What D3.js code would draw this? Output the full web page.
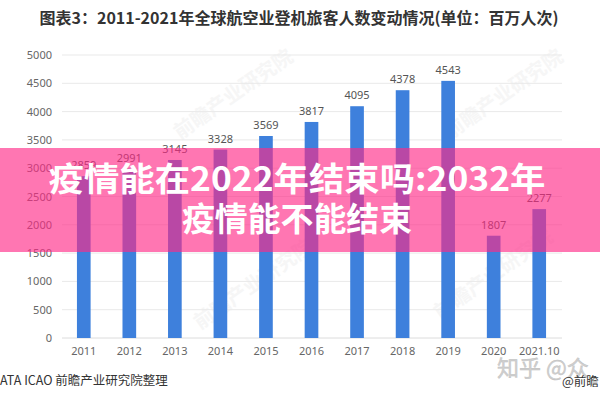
<!DOCTYPE html>
<html>
<head>
<meta charset="utf-8">
<script src="https://cdn.jsdelivr.net/npm/d3@7"></script>
<style>
  body { margin: 0; background: #fff; }
  svg { display: block; font-family: "Noto Sans CJK SC", "Noto Sans", sans-serif; }
</style>
</head>
<body>
<svg id="chart"></svg>
<script>
// data
const years = ["2011", "2012", "2013", "2014", "2015", "2016", "2017", "2018", "2019", "2020", "2021.10"];
const passengers = [2859, 2991, 3145, 3328, 3569, 3817, 4095, 4378, 4543, 1807, 2277];
const yTicks = [0, 500, 1000, 1500, 2000, 2500, 3000, 3500, 4000, 4500, 5000];
const titleText = "图表3：2011-2021年全球航空业登机旅客人数变动情况(单位：百万人次)";
const bannerLines = ["疫情能在2022年结束吗:2032年", "疫情能不能结束"];
const sourceText = "ATA  ICAO 前瞻产业研究院整理";
const watermarks = [
  { text: "前瞻产业研究院", x: 180, y: 140 },
  { text: "前瞻产业研究院", x: 450, y: 140 },
  { text: "前瞻产业研究院", x: 200, y: 330 },
  { text: "前瞻产业研究院", x: 440, y: 320 }
];

const width = 600;
const height = 400;

const svg = d3.select("#chart")
  .attr("width", width)
  .attr("height", height);

svg.append("rect")
  .attr("width", width)
  .attr("height", height)
  .attr("fill", "#fff");

// faint watermarks behind everything
svg.append("g")
  .selectAll("text")
  .data(watermarks)
  .enter()
  .append("text")
  .attr("transform", d => `translate(${d.x},${d.y}) rotate(-35)`)
  .attr("font-size", 20)
  .attr("font-weight", "bold")
  .attr("fill", "#f6f6f6")
  .text(d => d.text);

// scales
const xScale = d3.scaleBand()
  .domain(years)
  .range([61, 562])
  .paddingInner(0.7)
  .paddingOuter(0.35);

const yScale = d3.scaleLinear()
  .domain([0, 5000])
  .range([338, 55]);

// gridlines
svg.append("g")
  .selectAll("line")
  .data(yTicks)
  .enter()
  .append("line")
  .attr("x1", 62)
  .attr("x2", 562)
  .attr("y1", d => yScale(d))
  .attr("y2", d => yScale(d))
  .attr("stroke", d => d === 0 ? "#dcdcdc" : "#e9e9e9")
  .attr("stroke-width", 1);

// y axis labels
const yAxis = d3.axisLeft(yScale)
  .tickValues(yTicks)
  .tickFormat(d3.format("d"))
  .tickSize(0)
  .tickPadding(0);

const yAxisG = svg.append("g")
  .attr("transform", "translate(52,0)")
  .call(yAxis);
yAxisG.select(".domain").remove();
yAxisG.selectAll("text")
  .attr("font-size", 11)
  .attr("fill", "#666")
  .attr("font-family", "'Noto Sans', sans-serif");

// x axis labels
const xAxis = d3.axisBottom(xScale)
  .tickSize(0)
  .tickPadding(9);

const xAxisG = svg.append("g")
  .attr("transform", "translate(0,338)")
  .call(xAxis);
xAxisG.select(".domain").remove();
xAxisG.selectAll("text")
  .attr("font-size", 11)
  .attr("fill", "#666")
  .attr("font-family", "'Noto Sans', sans-serif");

// bars
svg.append("g")
  .selectAll("rect")
  .data(passengers)
  .enter()
  .append("rect")
  .attr("x", (d, i) => xScale(years[i]))
  .attr("y", d => yScale(d))
  .attr("width", xScale.bandwidth())
  .attr("height", d => yScale(0) - yScale(d))
  .attr("fill", "#3e80dc");

// value labels
svg.append("g")
  .selectAll("text")
  .data(passengers)
  .enter()
  .append("text")
  .attr("x", (d, i) => xScale(years[i]) + xScale.bandwidth() / 2)
  .attr("y", d => yScale(d) - 7)
  .attr("text-anchor", "middle")
  .attr("font-size", 11)
  .attr("fill", "#555")
  .attr("font-family", "'Noto Sans', sans-serif")
  .text(d => d);

// title
const title = svg.append("text")
  .attr("x", 299)
  .attr("y", 24)
  .attr("text-anchor", "middle")
  .attr("font-size", 16)
  .attr("font-weight", "bold")
  .attr("fill", "#333")
  .text(titleText);
const tw = title.node().getComputedTextLength();
if (tw > 528) title.attr("textLength", 528).attr("lengthAdjust", "spacingAndGlyphs");

// source line and watermark
svg.append("text")
  .attr("x", 0)
  .attr("y", 385)
  .attr("font-size", 12.5)
  .attr("fill", "#333")
  .text(sourceText);

svg.append("text")
  .attr("x", 497)
  .attr("y", 376)
  .attr("font-size", 22)
  .attr("fill", "#d0d0d0")
  .attr("stroke", "#bdbdbd")
  .attr("stroke-width", 0.4)
  .text("知乎 @众");

svg.append("text")
  .attr("x", 562)
  .attr("y", 386)
  .attr("font-size", 12.5)
  .attr("fill", "#333")
  .text("@前瞻");

// translucent pink banner across the middle
svg.append("rect")
  .attr("x", 0)
  .attr("y", 148)
  .attr("width", width)
  .attr("height", 104)
  .attr("fill", "rgb(255,40,135)")
  .attr("fill-opacity", 0.64);

const bannerWidths = [497, 230];
svg.append("g")
  .selectAll("text")
  .data(bannerLines)
  .enter()
  .append("text")
  .attr("x", 297)
  .attr("y", (d, i) => 191 + i * 40)
  .attr("text-anchor", "middle")
  .attr("font-size", 33)
  .attr("font-weight", "bold")
  .attr("fill", "#fff")
  .attr("textLength", (d, i) => bannerWidths[i])
  .attr("lengthAdjust", "spacingAndGlyphs")
  .text(d => d);
</script>
</body>
</html>
